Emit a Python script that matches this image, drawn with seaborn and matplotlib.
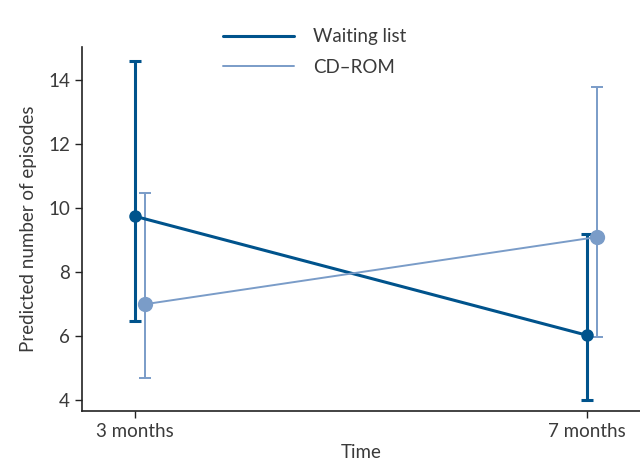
import numpy as np
import pandas as pd
import matplotlib
matplotlib.use("Agg")
import matplotlib.pyplot as plt
import seaborn as sns
from matplotlib.lines import Line2D

# data
times = ["3 months", "7 months"]
groups = ["Waiting list", "CD\u2013ROM"]
waiting_mean = [9.75, 6.03]
waiting_low = [6.47, 4.0]
waiting_high = [14.6, 9.19]
cdrom_mean = [7.0, 9.1]
cdrom_low = [4.69, 5.97]
cdrom_high = [10.47, 13.8]

colors = {"Waiting list": "#00538c", "CD\u2013ROM": "#7a9cc8"}
widths = {"Waiting list": 2.2, "CD\u2013ROM": 1.4}
msizes = {"Waiting list": 9, "CD\u2013ROM": 11}
offsets = {"Waiting list": 0.0, "CD\u2013ROM": 0.022}

rows = []
for g, m, lo, hi in [(groups[0], waiting_mean, waiting_low, waiting_high),
                     (groups[1], cdrom_mean, cdrom_low, cdrom_high)]:
    for i, t in enumerate(times):
        rows.append({"group": g, "time": t, "pos": i + offsets[g],
                     "mean": m[i], "low": lo[i], "high": hi[i]})
df = pd.DataFrame(rows)

sns.set_style("ticks")
plt.rcParams["font.family"] = ["Lato", "DejaVu Sans"]
plt.rcParams["text.color"] = "#3a3a3a"
plt.rcParams["axes.labelcolor"] = "#3a3a3a"
plt.rcParams["xtick.color"] = "#3a3a3a"
plt.rcParams["ytick.color"] = "#3a3a3a"

FS = 13.5

fig = plt.figure(figsize=(6.4, 4.63), dpi=100)
ax = fig.add_axes([0.128, 0.112, 0.872, 0.786])

for g in groups:
    d = df[df["group"] == g]
    ax.errorbar(d["pos"], d["mean"],
                yerr=[d["mean"] - d["low"], d["high"] - d["mean"]],
                fmt="none", ecolor=colors[g], elinewidth=widths[g],
                capsize=4, capthick=widths[g], zorder=2)
    sns.lineplot(data=d, x="pos", y="mean", ax=ax, color=colors[g],
                 linewidth=widths[g], marker="o", markersize=msizes[g],
                 markeredgewidth=0, label=g, legend=False, zorder=3)

ax.set_xlim(-0.117, 1.117)
ax.set_ylim(3.66, 15.03)
ax.set_xticks([0, 1])
ax.set_xticklabels(times)
ax.set_yticks([4, 6, 8, 10, 12, 14])
ax.set_xlabel("Time", fontsize=FS, labelpad=3)
ax.set_ylabel("Predicted number of episodes", fontsize=FS, labelpad=8)
ax.tick_params(labelsize=FS, length=5, width=1, color="#222222")
for s in ["left", "bottom"]:
    ax.spines[s].set_color("#222222")
    ax.spines[s].set_linewidth(1.2)
sns.despine(ax=ax)

handles = [Line2D([], [], color=colors[g], linewidth=widths[g]) for g in groups]
fig.legend(handles, groups, loc="upper left", bbox_to_anchor=(0.322, 0.975),
           frameon=False, fontsize=FS, handlelength=3.8, handletextpad=1.0,
           labelspacing=0.7)

fig.savefig("out.png", dpi=100)
